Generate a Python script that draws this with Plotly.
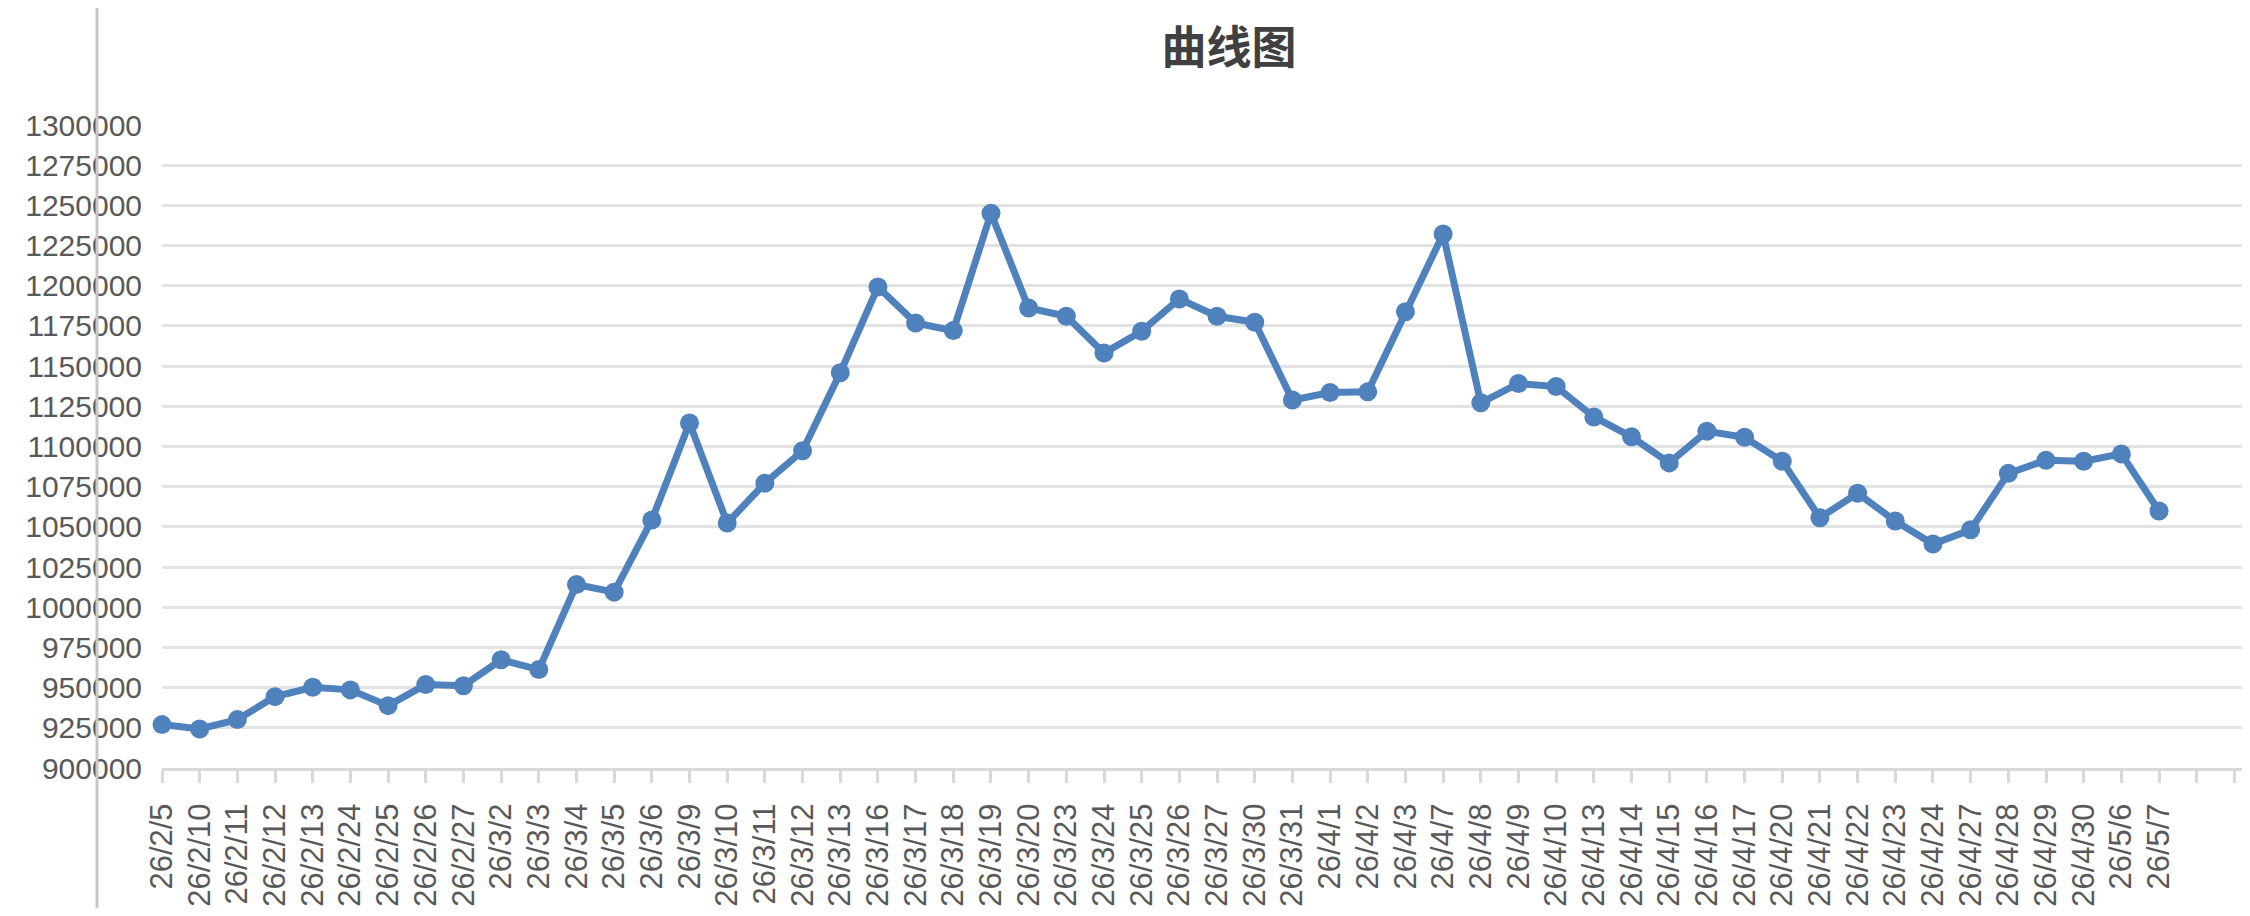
import plotly.graph_objects as go

# categories (x axis labels) and series values
dates = [
    "26/2/5", "26/2/10", "26/2/11", "26/2/12", "26/2/13", "26/2/24", "26/2/25",
    "26/2/26", "26/2/27", "26/3/2", "26/3/3", "26/3/4", "26/3/5", "26/3/6",
    "26/3/9", "26/3/10", "26/3/11", "26/3/12", "26/3/13", "26/3/16", "26/3/17",
    "26/3/18", "26/3/19", "26/3/20", "26/3/23", "26/3/24", "26/3/25", "26/3/26",
    "26/3/27", "26/3/30", "26/3/31", "26/4/1", "26/4/2", "26/4/3", "26/4/7",
    "26/4/8", "26/4/9", "26/4/10", "26/4/13", "26/4/14", "26/4/15", "26/4/16",
    "26/4/17", "26/4/20", "26/4/21", "26/4/22", "26/4/23", "26/4/24", "26/4/27",
    "26/4/28", "26/4/29", "26/4/30", "26/5/6", "26/5/7",
]
values = [
    927000, 924300, 930100, 944400, 950200, 948600, 938800,
    951900, 951200, 967300, 961200, 1014100, 1009400, 1054300,
    1114600, 1052400, 1077200, 1097300, 1145900, 1199300, 1176800,
    1172100, 1245100, 1186200, 1181000, 1158100, 1171700, 1191800,
    1181000, 1177300, 1128900, 1133600, 1134000, 1183800, 1232200,
    1127200, 1139200, 1137300, 1118400, 1106000, 1089800, 1109500,
    1105700, 1090800, 1055700, 1070900, 1053600, 1039300, 1048200,
    1083300, 1091500, 1090800, 1095400, 1059900,
]
y_ticks = list(range(900000, 1300001, 25000))

# the axis in the source keeps two empty slots after the last date
positions = list(range(len(dates)))
tick_pos = list(range(len(dates) + 2))
tick_text = dates + ["", ""]

BLUE = "#4F81BD"
GRAY_TXT = "#595959"
AXIS_GRAY = "#d9d9d9"

# page body has an 8px margin, so the figure is a bit smaller than the window
W, H = 2234, 900
L, T, B = 154, 117, 140
PW, PH = W - L, H - T - B

fig = go.Figure()
fig.add_trace(go.Scatter(
    x=positions,
    y=values,
    mode="lines+markers",
    line=dict(color=BLUE, width=7),
    marker=dict(color=BLUE, size=19),
    cliponaxis=False,
    showlegend=False,
))

fig.update_layout(
    width=W,
    height=H,
    margin=dict(l=L, r=0, t=T, b=B),
    paper_bgcolor="white",
    plot_bgcolor="white",
    title=dict(
        text="<b>曲线图</b>",
        x=1221 / W,
        xref="container",
        xanchor="center",
        y=1 - 40 / H,
        yref="container",
        yanchor="middle",
        font=dict(family="Noto Sans CJK SC", size=45, color="#404040"),
    ),
    xaxis=dict(
        range=[0, PW / 37.68],
        tickmode="array",
        tickvals=tick_pos,
        ticktext=tick_text,
        tickangle=-90,
        ticks="outside",
        ticklen=12,
        tickwidth=2.5,
        tickcolor=AXIS_GRAY,
        showline=True,
        linecolor=AXIS_GRAY,
        linewidth=3,
        showgrid=False,
        zeroline=False,
        tickfont=dict(family="Liberation Sans", size=31, color=GRAY_TXT),
        ticklabelstandoff=8,
    ),
    xaxis2=dict(
        overlaying="x",
        matches="x",
        anchor="y",
        side="bottom",
        tickmode="array",
        tickvals=tick_pos,
        ticks="inside",
        ticklen=12,
        tickwidth=2.5,
        tickcolor=AXIS_GRAY,
        showticklabels=False,
        showgrid=False,
        showline=False,
        zeroline=False,
    ),
    yaxis=dict(
        range=[900000, 1300000],
        tickmode="array",
        tickvals=y_ticks,
        ticktext=[str(v) for v in y_ticks],
        showgrid=True,
        gridcolor="#e3e3e3",
        gridwidth=2.5,
        zeroline=False,
        showline=False,
        ticks="",
        tickfont=dict(family="Liberation Sans", size=30, color=GRAY_TXT),
        ticklabelstandoff=19,
    ),
    shapes=[
        # window frame line seen at the left of the screenshot
        dict(type="line", xref="paper", yref="paper",
             x0=(89 - L) / PW, x1=(89 - L) / PW, y0=-(B + 10) / PH, y1=1 + (T + 10) / PH,
             line=dict(color="#c8c8c8", width=3), layer="above"),
    ],
)

fig.write_html("out.html")
